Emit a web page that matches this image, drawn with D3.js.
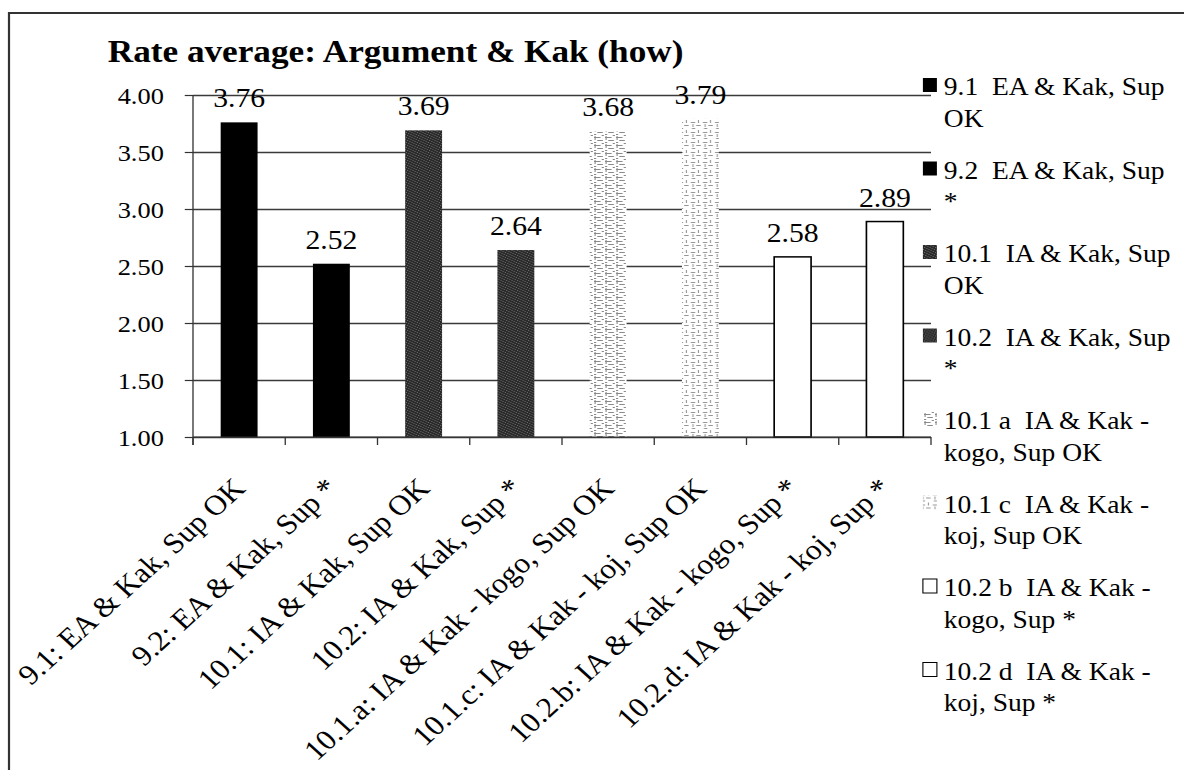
<!DOCTYPE html>
<html>
<head>
<meta charset="utf-8">
<script src="https://cdn.jsdelivr.net/npm/d3@7"></script>
<style>
  html, body { margin: 0; padding: 0; background: #fff; }
  svg { display: block; font-family: "Liberation Serif", "Times New Roman", serif; }
  svg text { font-family: "Liberation Serif", "Times New Roman", serif !important; fill: #000; white-space: pre; }
</style>
</head>
<body>
<svg id="chart" width="1184" height="770"></svg>
<script>
// ---- data ----
const title = "Rate average: Argument & Kak (how)";
const categories = [
  "9.1: EA & Kak, Sup OK",
  "9.2: EA & Kak, Sup *",
  "10.1: IA & Kak, Sup OK",
  "10.2: IA & Kak, Sup *",
  "10.1.a: IA & Kak - kogo, Sup OK",
  "10.1.c: IA & Kak - koj, Sup OK",
  "10.2.b: IA & Kak - kogo, Sup *",
  "10.2.d: IA & Kak - koj, Sup *"
];
const values = [3.76, 2.52, 3.69, 2.64, 3.68, 3.79, 2.58, 2.89];
const legendLine1 = [
  "9.1  EA & Kak, Sup",
  "9.2  EA & Kak, Sup",
  "10.1  IA & Kak, Sup",
  "10.2  IA & Kak, Sup",
  "10.1 a  IA & Kak -",
  "10.1 c  IA & Kak -",
  "10.2 b  IA & Kak -",
  "10.2 d  IA & Kak -"
];
const legendLine2 = ["OK", "*", "OK", "*", "kogo, Sup OK", "koj, Sup OK", "kogo, Sup *", "koj, Sup *"];
const yTicks = [1.00, 1.50, 2.00, 2.50, 3.00, 3.50, 4.00];
const barStyles = ["solid", "solid", "dark", "dark", "lightA", "lightC", "white", "white"];

// ---- layout ----
const FONT = "'Liberation Serif', 'Times New Roman', serif";
const SX = 1.1; // horizontal stretch of the original scan
const svg = d3.select("#chart");
const defs = svg.append("defs");

// patterns
const pDark = defs.append("pattern").attr("id", "pat-dark").attr("patternUnits", "userSpaceOnUse")
  .attr("width", 5).attr("height", 5);
pDark.append("rect").attr("width", 5).attr("height", 5).attr("fill", "#2a2a2a");
[[0,0],[2,1],[4,2],[1,3],[3,4]].forEach(([a,b]) =>
  pDark.append("rect").attr("x", a).attr("y", b).attr("width", 1).attr("height", 1).attr("fill", "#6a6a6a"));

const pA = defs.append("pattern").attr("id", "pat-a").attr("patternUnits", "userSpaceOnUse")
  .attr("width", 10).attr("height", 8);
pA.append("rect").attr("width", 10).attr("height", 8).attr("fill", "#fff");
pA.append("path").attr("d", "M0,1.5h6 M3,4.5h5 M0,6.5h2 M7,7.5h2 M1,0v4")
  .attr("stroke", "#8a8a8a").attr("stroke-width", 1);

const pC = defs.append("pattern").attr("id", "pat-c").attr("patternUnits", "userSpaceOnUse")
  .attr("width", 11).attr("height", 10);
pC.append("rect").attr("width", 11).attr("height", 10).attr("fill", "#fff");
pC.append("path").attr("d", "M1,2.5h4 M6,5.5h4 M2,8.5h3 M8,0v3 M3,4v3")
  .attr("stroke", "#959595").attr("stroke-width", 1);

const fillFor = s => s === "solid" ? "#000" : s === "dark" ? "url(#pat-dark)" :
  s === "lightA" ? "url(#pat-a)" : s === "lightC" ? "url(#pat-c)" : "#fff";
const strokeFor = s => s === "white" ? "#000" : "none";

const g = svg.append("g").attr("transform", `scale(${SX},1)`);

// frame (top and left edges visible)
g.append("path").attr("d", `M${9/SX},770 V13 H${1184/SX}`)
  .attr("fill", "none").attr("stroke", "#333").attr("stroke-width", 2);

const plotL = 193 / SX, plotR = 931 / SX;
const x = d3.scaleBand().domain(categories).range([plotL, plotR]).paddingInner(0.6).paddingOuter(0.3);
const y = d3.scaleLinear().domain([1, 4]).range([437, 95]);

// title
g.append("text").attr("x", 98).attr("y", 62).attr("font-family", FONT)
  .attr("font-size", 32).attr("font-weight", "bold").text(title);

// gridlines
g.append("g").attr("transform", `translate(${plotL},0)`)
  .call(d3.axisLeft(y).tickValues(yTicks).tickSize(-(plotR - plotL)).tickFormat("").tickSizeOuter(0))
  .call(a => a.select(".domain").remove())
  .call(a => a.selectAll("line").attr("stroke", "#3a3a3a").attr("stroke-width", 1.4));

// y axis
g.append("g").attr("transform", `translate(${plotL},0)`)
  .call(d3.axisLeft(y).tickValues(yTicks).tickFormat(d3.format(".2f")).tickSize(7.5).tickSizeOuter(0).tickPadding(19))
  .attr("font-family", FONT)
  .call(a => a.select(".domain").attr("stroke", "#333").attr("stroke-width", 1.2).attr("d", `M0,${y(4)}V${y(1) + 8}`))
  .call(a => a.selectAll("line").attr("stroke", "#333").attr("stroke-width", 1.2))
  .call(a => a.selectAll("text").attr("font-family", FONT).attr("font-size", 24)
    .attr("dy", "0.34em").attr("fill", "#000"));

// bars
g.append("g").selectAll("rect").data(values).join("rect")
  .attr("x", (d, i) => x(categories[i]))
  .attr("y", d => y(d))
  .attr("width", x.bandwidth())
  .attr("height", d => y(1) - y(d))
  .attr("fill", (d, i) => fillFor(barStyles[i]))
  .attr("stroke", (d, i) => strokeFor(barStyles[i]))
  .attr("stroke-width", 1.5);

// x axis line + ticks between categories
g.append("line").attr("x1", plotL).attr("x2", plotR).attr("y1", y(1)).attr("y2", y(1))
  .attr("stroke", "#333").attr("stroke-width", 1.2);
const bounds = categories.map(c => x(c) - x.step() * 0.3).concat([plotR]);
g.append("g").selectAll("line").data(bounds).join("line")
  .attr("x1", d => d).attr("x2", d => d).attr("y1", y(1)).attr("y2", y(1) + 8)
  .attr("stroke", "#333").attr("stroke-width", 1.2);

// data labels
g.append("g").selectAll("text").data(values).join("text")
  .attr("x", (d, i) => x(categories[i]) + x.bandwidth() / 2)
  .attr("y", d => y(d) - 15)
  .attr("text-anchor", "middle").attr("font-family", FONT).attr("font-size", 27)
  .text(d => d3.format(".2f")(d));

// category labels, rotated
g.append("g").selectAll("text").data(categories).join("text")
  .attr("transform", c => `translate(${x(c) + x.bandwidth() / 2 + 7},490) rotate(-45)`)
  .attr("text-anchor", "end").attr("font-family", FONT).attr("font-size", 28.5)
  .text(c => c);

// legend
const legX = 839, legTextX = 858;
const leg = g.append("g").selectAll("g").data(legendLine1).join("g")
  .attr("transform", (d, i) => `translate(0,${95 + i * 83.5})`);
leg.append("rect").attr("x", legX).attr("y", -17).attr("width", 14 / SX).attr("height", 14)
  .attr("fill", (d, i) => fillFor(barStyles[i]))
  .attr("stroke", (d, i) => strokeFor(barStyles[i])).attr("stroke-width", 1);
leg.append("text").attr("x", legTextX).attr("y", 0).attr("font-family", FONT).attr("font-size", 25).text(d => d);
leg.append("text").attr("x", legTextX).attr("y", 32).attr("font-family", FONT).attr("font-size", 25).text((d, i) => legendLine2[i]);
</script>
</body>
</html>
